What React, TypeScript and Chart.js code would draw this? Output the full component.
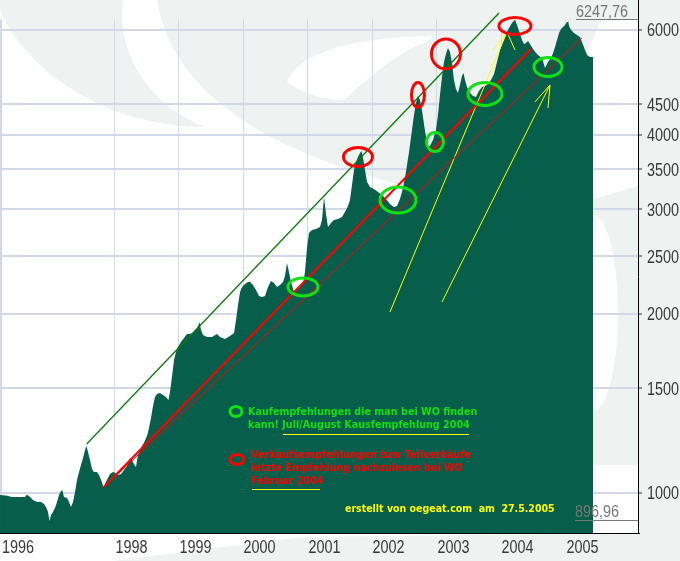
import React, { useEffect, useRef } from "react";
import { Chart, registerables } from "chart.js";

Chart.register(...registerables);

// ---------- data (time in fractional years, value in index points) ----------
const YEARS: number[] = [
  1996.225, 1996.318, 1996.411, 1996.535, 1996.612, 1996.643, 1996.69, 1996.736, 1996.799, 1996.861,
  1996.907, 1996.938, 1996.969, 1996.992, 1997.016, 1997.047, 1997.078, 1997.109, 1997.14, 1997.171,
  1997.186, 1997.217, 1997.264, 1997.295, 1997.326, 1997.357, 1997.388, 1997.419, 1997.45, 1997.481,
  1997.512, 1997.543, 1997.566, 1997.589, 1997.62, 1997.651, 1997.682, 1997.729, 1997.76, 1997.791,
  1997.822, 1997.837, 1997.868, 1997.899, 1997.93, 1997.977, 1998.008, 1998.054, 1998.101, 1998.147,
  1998.194, 1998.24, 1998.271, 1998.302, 1998.333, 1998.364, 1998.411, 1998.457, 1998.504, 1998.535,
  1998.566, 1998.597, 1998.628, 1998.659, 1998.705, 1998.752, 1998.798, 1998.837, 1998.86, 1998.891,
  1998.922, 1998.953, 1998.984, 1999.031, 1999.077, 1999.124, 1999.17, 1999.217, 1999.264, 1999.295,
  1999.318, 1999.341, 1999.372, 1999.434, 1999.511, 1999.589, 1999.636, 1999.713, 1999.791, 1999.853,
  1999.884, 1999.915, 1999.946, 1999.977, 2000.023, 2000.07, 2000.101, 2000.147, 2000.194, 2000.24,
  2000.287, 2000.333, 2000.38, 2000.426, 2000.473, 2000.519, 2000.566, 2000.612, 2000.643, 2000.674,
  2000.705, 2000.736, 2000.783, 2000.829, 2000.876, 2000.922, 2000.953, 2000.984, 2001.015, 2001.062,
  2001.124, 2001.186, 2001.217, 2001.248, 2001.279, 2001.31, 2001.356, 2001.403, 2001.465, 2001.527,
  2001.573, 2001.62, 2001.651, 2001.682, 2001.713, 2001.744, 2001.775, 2001.806, 2001.829, 2001.853,
  2001.884, 2001.915, 2001.961, 2002.023, 2002.085, 2002.147, 2002.209, 2002.271, 2002.333, 2002.38,
  2002.426, 2002.473, 2002.519, 2002.566, 2002.612, 2002.643, 2002.674, 2002.705, 2002.736, 2002.767,
  2002.798, 2002.829, 2002.86, 2002.891, 2002.938, 2002.984, 2003.015, 2003.046, 2003.077, 2003.108,
  2003.139, 2003.17, 2003.201, 2003.232, 2003.263, 2003.294, 2003.325, 2003.356, 2003.387, 2003.411,
  2003.434, 2003.465, 2003.511, 2003.558, 2003.605, 2003.651, 2003.698, 2003.744, 2003.791, 2003.837,
  2003.884, 2003.93, 2003.977, 2004.023, 2004.07, 2004.116, 2004.163, 2004.209, 2004.256, 2004.287,
  2004.318, 2004.349, 2004.38, 2004.411, 2004.442, 2004.489, 2004.535, 2004.582, 2004.628, 2004.675,
  2004.721, 2004.768, 2004.799, 2004.83, 2004.861, 2004.892, 2004.923, 2004.954, 2004.985, 2005.016,
  2005.031, 2005.047, 2005.078, 2005.124, 2005.171, 2005.217, 2005.248, 2005.295, 2005.326, 2005.372,
  2005.419,
];

const INDEX_VALUES: number[] = [
  992, 990, 985, 985, 985, 994, 985, 973, 966, 966,
  958, 947, 929, 896.96, 918, 929, 944, 966, 992, 1008,
  1016, 985, 981, 966, 947, 966, 1004, 1052, 1085, 1115,
  1145, 1181, 1200, 1172, 1136, 1097, 1085, 1085, 1072, 1052,
  1028, 1024, 1044, 1060, 1076, 1085, 1081, 1072, 1076, 1093,
  1110, 1145, 1136, 1119, 1106, 1158, 1190, 1214, 1247, 1286,
  1337, 1400, 1450, 1467, 1473, 1461, 1450, 1433, 1478, 1567,
  1673, 1726, 1759, 1794, 1822, 1850, 1850, 1857, 1879, 1908,
  1938, 1879, 1843, 1829, 1829, 1850, 1829, 1815, 1836, 1857,
  1953, 2070, 2177, 2220, 2245, 2263, 2263, 2237, 2194, 2144,
  2135, 2144, 2220, 2272, 2254, 2220, 2237, 2263, 2316, 2435,
  2352, 2263, 2177, 2194, 2220, 2245, 2352, 2581, 2735, 2767,
  2778, 2799, 2876, 3144, 2944, 2799, 2843, 2876, 2887, 2910,
  2967, 3036, 3108, 3293, 3490, 3600, 3670, 3728, 3756, 3656,
  3490, 3332, 3268, 3243, 3205, 3168, 3120, 3060, 3025, 3036,
  3120, 3255, 3463, 3742, 4075, 4318, 4523, 4648, 4576, 4403,
  4170, 3966, 3830, 3830, 3920, 4075, 4318, 4666, 5002, 5301,
  5468, 5596, 5510, 5281, 4945, 4775, 4702, 4850, 5022, 5080,
  4945, 4812, 4702, 4648, 4630, 4738, 4812, 4831, 4869, 4945,
  5061, 5301, 5553, 5728, 5908, 6047, 6165, 6247.76, 6047, 5908,
  5772, 5684, 5706, 5750, 5684, 5575, 5489, 5426, 5384, 5180,
  5301, 5384, 5489, 5618, 5772, 5931, 6023, 6070, 6117, 6189,
  6237, 6094, 6000, 5931, 5885, 5840, 5728, 5553, 5447, 5405,
  5405,
];

const X_MIN = 1996.2248;
const X_MAX = 2006.1163;
const Y_MIN = 856.5;
const Y_MAX = 6247.76;

const X_TICK_VALUES = [1996.24, 1998, 1999, 2000, 2001, 2002, 2003, 2004, 2005];
const X_TICK_LABELS = ["1996", "1998", "1999", "2000", "2001", "2002", "2003", "2004", "2005"];
const Y_TICK_VALUES = [1000, 1500, 2000, 2500, 3000, 3500, 4000, 4500, 6000];

const MAX_LABEL = "6247,76";
const MAX_VALUE = 6247.76;
const MIN_LABEL = "896,96";
const MIN_VALUE = 896.96;

// hand-drawn trend lines: start (year, value) -> end (year, value)
const LINE_X1 = [1997.569, 1997.837, 1997.837, 2002.271, 2003.868, 2004.209, 2003.078, 2004.519, 2004.721];
const LINE_Y1 = [1208.8, 1023.5, 1023.5, 2014.6, 5553.1, 5553.1, 2094.2, 4541, 4436.7];
const LINE_X2 = [2003.961, 2004.458, 2005.248, 2004.085, 2004.085, 2004.085, 2004.752, 2004.752, 2004.752];
const LINE_Y2 = [6408, 5574.7, 5817, 5953.6, 5953.6, 5953.6, 4849.7, 4849.7, 4849.7];
const LINE_KIND = ["green", "redThick", "redThin", "yellow", "yellow", "yellow", "yellow", "yellow", "yellow"];

// marked spots (buy = green, sell = red)
const MARK_X = [2000.923, 2002.396, 2002.969, 2003.744, 2004.721, 2001.775, 2002.705, 2003.139, 2004.209];
const MARK_Y = [2219.5, 3107.6, 3889.7, 4683.7, 5199.7, 3670.2, 4665.6, 5467.9, 6093.5];
const MARK_KIND = ["buy", "buy", "buy", "buy", "buy", "sell", "sell", "sell", "sell"];

const LEGEND_BUY = ["Kaufempfehlungen die man bei WO finden", "kann! Juli/August Kausfempfehlung 2004"];
const LEGEND_SELL = ["Verkaufsempfehlungen bzw Teilverkäufe", "letzte Empfehlung nachzulesen bei WO", "Februar 2004"];
const CREDIT = "erstellt von oegeat.com  am  27.5.2005";

// ---------- styles ----------
const AREA_COLOR = "#075f4b";
const GRID_COLOR = "#d2d8ea";
const WATERMARK = "#eef2f0";
const BUY_COLOR = "#11e011";
const SELL_COLOR = "#ff0000";
const YELLOW = "#ffff00";
const AXIS_FONT = "'Liberation Sans', Arial, sans-serif";
const TEXT_FONT = "bold 10px 'DejaVu Sans', Verdana, sans-serif";
const MARK_RX = [15, 18, 8.5, 17, 14, 14.5, 6.5, 14.5, 16];
const MARK_RY = [9, 13, 9.5, 11.5, 9.5, 9.5, 12.5, 15, 8.5];
const LINE_STYLE: Record<string, { color: string; width: number }> = {
  green: { color: "#0a7a0a", width: 1.3 },
  redThick: { color: "#ff0000", width: 2 },
  redThin: { color: "#ff0000", width: 1 },
  yellow: { color: YELLOW, width: 1 },
};

function scaledText(ctx: CanvasRenderingContext2D, text: string, x: number, y: number, sx: number) {
  ctx.save();
  ctx.translate(x, y);
  ctx.scale(sx, 1);
  ctx.fillText(text, 0, 0);
  ctx.restore();
}

function drawWatermark(ctx: CanvasRenderingContext2D) {
  ctx.save();
  ctx.fillStyle = "#ffffff";
  ctx.fillRect(0, 0, 680, 561);
  ctx.fillStyle = WATERMARK;
  // top-left crescent
  ctx.beginPath();
  ctx.moveTo(0, 0);
  ctx.lineTo(123, 0);
  ctx.bezierCurveTo(116, 55, 150, 105, 205, 127);
  ctx.bezierCurveTo(120, 128, 30, 80, 0, 10);
  ctx.closePath();
  ctx.fill();
  // top band
  ctx.beginPath();
  ctx.moveTo(157, 0);
  ctx.lineTo(680, 0);
  ctx.lineTo(680, 14);
  ctx.lineTo(600, 22);
  ctx.lineTo(560, 120);
  ctx.lineTo(420, 190);
  ctx.bezierCurveTo(300, 160, 175, 110, 157, 0);
  ctx.closePath();
  ctx.fill();
  // right of the axis
  ctx.fillRect(638, 0, 42, 561);
  // gap between series end and axis
  ctx.beginPath();
  ctx.moveTo(590, 200);
  ctx.lineTo(638, 186);
  ctx.lineTo(638, 465);
  ctx.lineTo(590, 465);
  ctx.closePath();
  ctx.fill();
  // bottom band
  ctx.beginPath();
  ctx.moveTo(113, 561);
  ctx.lineTo(304, 537);
  ctx.lineTo(638, 533);
  ctx.lineTo(638, 561);
  ctx.closePath();
  ctx.fill();
  // white inner swirls
  ctx.fillStyle = "#ffffff";
  ctx.beginPath();
  ctx.moveTo(287, 82);
  ctx.bezierCurveTo(300, 50, 360, 36, 440, 36);
  ctx.bezierCurveTo(400, 50, 370, 75, 345, 100);
  ctx.bezierCurveTo(320, 100, 300, 92, 287, 82);
  ctx.closePath();
  ctx.fill();
  ctx.beginPath();
  ctx.ellipse(593, 313, 25, 98, 0, 0, Math.PI * 2);
  ctx.fill();
  ctx.restore();
}

const overlayPlugin = {
  id: "overlay",
  beforeDraw(chart: any) {
    drawWatermark(chart.ctx);
  },
  afterDatasetsDraw(chart: any) {
    const ctx: CanvasRenderingContext2D = chart.ctx;
    const xs = chart.scales.x;
    const ys = chart.scales.y;
    ctx.save();
    // circles
    ctx.lineWidth = 3;
    MARK_X.forEach((t, i) => {
      const cx = xs.getPixelForValue(t);
      const cy = ys.getPixelForValue(MARK_Y[i]);
      ctx.strokeStyle = MARK_KIND[i] === "buy" ? BUY_COLOR : SELL_COLOR;
      ctx.beginPath();
      ctx.ellipse(cx, cy, MARK_RX[i], MARK_RY[i], 0, 0, Math.PI * 2);
      ctx.stroke();
    });
    // legend
    const L = chart.chartArea.left;
    const legendX = L + 248;
    ctx.lineWidth = 3;
    ctx.strokeStyle = BUY_COLOR;
    ctx.beginPath();
    ctx.ellipse(L + 236, 411.5, 6, 5, 0, 0, Math.PI * 2);
    ctx.stroke();
    ctx.strokeStyle = SELL_COLOR;
    ctx.beginPath();
    ctx.ellipse(L + 237, 459.5, 7, 5, 0, 0, Math.PI * 2);
    ctx.stroke();
    ctx.font = TEXT_FONT;
    ctx.textBaseline = "alphabetic";
    ctx.textAlign = "left";
    const sx = 0.96;
    ctx.fillStyle = BUY_COLOR;
    scaledText(ctx, LEGEND_BUY[0], legendX, 415, sx);
    scaledText(ctx, LEGEND_BUY[1], legendX, 428, sx);
    ctx.fillStyle = SELL_COLOR;
    scaledText(ctx, LEGEND_SELL[0], legendX + 3, 458, sx);
    scaledText(ctx, LEGEND_SELL[1], legendX + 3, 471, sx);
    scaledText(ctx, LEGEND_SELL[2], legendX + 3, 484, sx);
    ctx.fillStyle = YELLOW;
    scaledText(ctx, CREDIT, L + 345, 512, 0.945);
    ctx.strokeStyle = YELLOW;
    ctx.lineWidth = 1;
    ctx.beginPath();
    ctx.moveTo(L + 283, 434.5);
    ctx.lineTo(L + 469, 434.5);
    ctx.moveTo(L + 252, 489.5);
    ctx.lineTo(L + 320, 489.5);
    ctx.stroke();
    ctx.restore();
  },
  afterDraw(chart: any) {
    const ctx: CanvasRenderingContext2D = chart.ctx;
    const xs = chart.scales.x;
    const ys = chart.scales.y;
    const { right, top, bottom } = chart.chartArea;
    ctx.save();
    ctx.strokeStyle = "#000";
    ctx.lineWidth = 1;
    ctx.beginPath();
    ctx.moveTo(Math.round(right) + 0.5, 0);
    ctx.lineTo(Math.round(right) + 0.5, top + 1);
    ctx.stroke();
    // axis labels (narrow, tall face)
    ctx.fillStyle = "#383838";
    ctx.font = `18px ${AXIS_FONT}`;
    ctx.textAlign = "left";
    ctx.textBaseline = "alphabetic";
    X_TICK_VALUES.forEach((v, i) => {
      const px = Math.max(2, Math.round(xs.getPixelForValue(v)) + 0.5);
      scaledText(ctx, X_TICK_LABELS[i], px, bottom + 20, 0.8);
    });
    Y_TICK_VALUES.forEach((v) => {
      const py = ys.getPixelForValue(v);
      scaledText(ctx, String(v), right + 9, py + 6.5, 0.8);
    });
    // min / max markers
    ctx.strokeStyle = "#777";
    ctx.fillStyle = "#777";
    ctx.font = `16px ${AXIS_FONT}`;
    const yMax = Math.round(ys.getPixelForValue(MAX_VALUE)) - 0.5;
    const yMin = Math.round(ys.getPixelForValue(MIN_VALUE)) - 0.5;
    ctx.beginPath();
    ctx.moveTo(576, yMax);
    ctx.lineTo(right, yMax);
    ctx.moveTo(575, yMin);
    ctx.lineTo(right, yMin);
    ctx.stroke();
    scaledText(ctx, MAX_LABEL, 576, yMax - 3, 0.9);
    scaledText(ctx, MIN_LABEL, 575, yMin - 3.5, 0.9);
    ctx.restore();
  },
};

export default function App() {
  const ref = useRef<HTMLCanvasElement | null>(null);
  useEffect(() => {
    document.body.style.margin = "0";
    const canvas = ref.current!;
    const areaData = YEARS.map((t, i) => ({ x: t, y: INDEX_VALUES[i] }));
    const lineSets = LINE_X1.map((x1, i) => ({
      data: [
        { x: x1, y: LINE_Y1[i] },
        { x: LINE_X2[i], y: LINE_Y2[i] },
      ],
      borderColor: LINE_STYLE[LINE_KIND[i]].color,
      borderWidth: LINE_STYLE[LINE_KIND[i]].width,
      pointRadius: 0,
      fill: false,
      clip: false as any,
      order: 1,
    }));
    const chart = new Chart(canvas, {
      type: "line",
      data: {
        datasets: [
          {
            data: areaData,
            fill: "start",
            backgroundColor: AREA_COLOR,
            borderWidth: 0,
            borderColor: AREA_COLOR,
            pointRadius: 0,
            tension: 0,
            order: 10,
          },
          ...lineSets,
        ] as any,
      },
      options: {
        animation: false,
        responsive: false,
        maintainAspectRatio: false,
        events: [],
        layout: { padding: { left: 0, right: 0, top: 19.5, bottom: 0 } },
        plugins: { legend: { display: false }, tooltip: { enabled: false } },
        scales: {
          x: {
            type: "linear",
            min: X_MIN,
            max: X_MAX,
            afterFit: (s: any) => {
              s.height = 28;
            },
            afterBuildTicks: (s: any) => {
              s.ticks = X_TICK_VALUES.map((v) => ({ value: v }));
            },
            ticks: { display: false, autoSkip: false, maxRotation: 0 },
            grid: {
              color: GRID_COLOR,
              lineWidth: (c: any) => (c.index === 0 ? 3 : 1),
              drawTicks: false,
            },
            border: { display: true, color: "#000", width: 1, z: 1 },
          },
          y: {
            type: "logarithmic",
            position: "right",
            min: Y_MIN,
            max: Y_MAX,
            afterFit: (s: any) => {
              s.width = 42;
            },
            afterBuildTicks: (s: any) => {
              s.ticks = Y_TICK_VALUES.map((v) => ({ value: v }));
            },
            ticks: { display: false, autoSkip: false },
            grid: {
              color: GRID_COLOR,
              lineWidth: 2,
              tickLength: 4,
              tickColor: "#333",
              tickWidth: 1,
            },
            border: { display: true, color: "#000", width: 1, z: 1 },
          },
        },
      } as any,
      plugins: [overlayPlugin],
    });
    return () => chart.destroy();
  }, []);
  return <canvas ref={ref} width={680} height={561} style={{ display: "block" }} />;
}
